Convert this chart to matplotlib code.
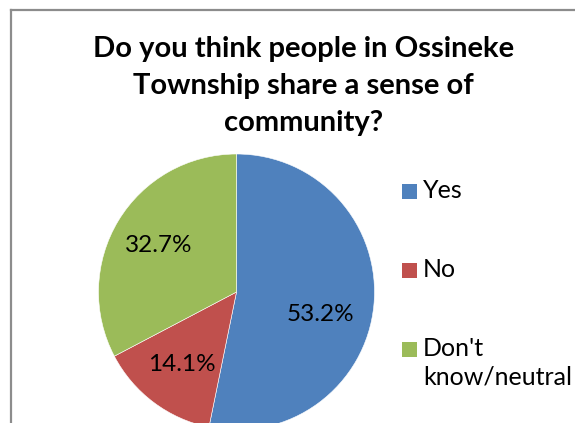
import matplotlib
matplotlib.use("Agg")
import matplotlib.pyplot as plt
from matplotlib.lines import Line2D
from matplotlib.patches import Rectangle

# Survey responses
categories = ["Yes", "No", "Don't\nknow/neutral"]
shares = [53.2, 14.1, 32.7]
colors = ["#4F81BD", "#C0504D", "#9BBB59"]
title = "Do you think people in Ossineke\nTownship share a sense of\ncommunity?"

W, H = 575, 423
fig = plt.figure(figsize=(W / 100, H / 100), dpi=100)
fig.patch.set_facecolor("white")

def fx(px):
    return px / W

def fy(py):
    return 1 - py / H

# Chart-area frame (left and top edges visible)
frame_kw = dict(color="#8c8c8c", linewidth=1.6, transform=fig.transFigure)
fig.add_artist(Line2D([fx(11), fx(11)], [fy(10), fy(H + 5)], **frame_kw))
fig.add_artist(Line2D([fx(11), fx(W + 5)], [fy(10), fy(10)], **frame_kw))

# Title
fig.text(fx(303.5), fy(86), title, ha="center", va="center",
         fontsize=21, fontweight="bold", family="Lato", linespacing=1.5,
         color="black")

# Pie
cx, cy, r = 236.5, 292, 138
ax = fig.add_axes([fx(cx - r), fy(cy + r), 2 * r / W, 2 * r / H])
wedges, texts, autotexts = ax.pie(
    shares, colors=colors, startangle=90, counterclock=False,
    autopct="%.1f%%", pctdistance=0.655, radius=1,
    wedgeprops=dict(edgecolor="white", linewidth=0.4),
    textprops=dict(fontsize=17.5, family="Lato", color="black"),
)
for w in wedges:
    w.set_clip_on(False)
# Nudge the largest slice's label down and in, as in the best-fit placement
x0, y0 = autotexts[0].get_position()
autotexts[0].set_position((x0 - 0.04, y0 - 0.1))
ax.set_xlim(-1, 1)
ax.set_ylim(-1, 1)
ax.axis("off")

# Legend
leg_x, leg_y0, leg_step = 402, 191.5, 79
for i, (lab, col) in enumerate(zip(categories, colors)):
    yc = leg_y0 + i * leg_step
    fig.add_artist(Rectangle((fx(leg_x), fy(yc + 7.5)), 15 / W, 15 / H,
                             facecolor=col, edgecolor="none",
                             transform=fig.transFigure))
    fig.text(fx(leg_x + 21), fy(yc - 13), lab, ha="left", va="top",
             fontsize=18, family="Lato", linespacing=1.3, color="black")

fig.savefig("out.png", dpi=100, facecolor="white")
